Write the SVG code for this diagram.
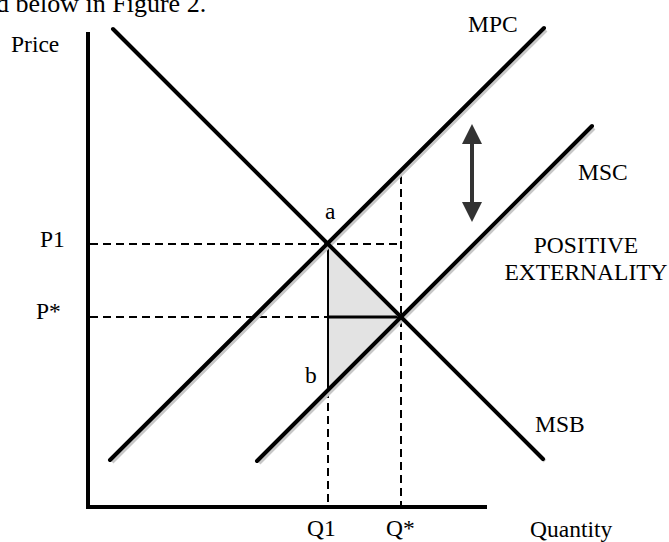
<svg xmlns="http://www.w3.org/2000/svg" width="669" height="542" viewBox="0 0 669 542">
<style>
text{font-family:"Liberation Serif","Times New Roman",serif;font-size:23.5px;fill:#000}
.curve{stroke:#000;stroke-width:4;fill:none;stroke-linecap:round}
.shadow{stroke:#c8c8c8;stroke-width:4;fill:none}
.dash{stroke:#000;stroke-width:2;stroke-dasharray:8,5;fill:none}
</style>
<defs>
<marker id="ah" viewBox="0 0 10 10" refX="2" refY="5" markerWidth="5" markerHeight="5" orient="auto-start-reverse" markerUnits="strokeWidth">
<path d="M0,0 L10,5 L0,10 z" fill="#333"/>
</marker>
</defs>
<rect width="669" height="542" fill="#fff"/>
<text x="-4" y="12" style="font-size:26px">d below in Figure 2.</text>
<g id="shading">
<polygon points="328,244 401,317 328,388" fill="#e3e3e3"/>
</g>
<g id="connectors">
<line class="dash" x1="90" y1="244" x2="400" y2="244"/>
<line class="dash" x1="90" y1="317" x2="328" y2="317"/>
<line class="dash" x1="328" y1="390" x2="328" y2="505"/>
<line class="dash" x1="401" y1="176" x2="401" y2="505"/>
<line x1="328" y1="244" x2="328" y2="388" stroke="#000" stroke-width="2"/>
<line x1="328" y1="317" x2="401" y2="317" stroke="#000" stroke-width="3"/>
<line class="shadow" x1="115" y1="31" x2="545" y2="461"/>
<line class="shadow" x1="112" y1="462" x2="546" y2="30"/>
<line class="shadow" x1="259" y1="463" x2="594" y2="128"/>
<line class="curve" x1="113" y1="29" x2="543" y2="459"/>
<line class="curve" x1="110" y1="460" x2="544" y2="28"/>
<line class="curve" x1="257" y1="461" x2="592" y2="126"/>
<path d="M88,32 L88,507 L487,507" stroke="#000" stroke-width="4" fill="none"/>
<line x1="472" y1="140" x2="472" y2="206" stroke="#333" stroke-width="4" marker-start="url(#ah)" marker-end="url(#ah)"/>
</g>
<g id="labels">
<text x="11" y="52">Price</text>
<text x="468" y="32">MPC</text>
<text x="578" y="180">MSC</text>
<text x="586" y="253" text-anchor="middle">POSITIVE</text>
<text x="586" y="280" text-anchor="middle">EXTERNALITY</text>
<text x="325" y="219">a</text>
<text x="305" y="383">b</text>
<text x="40" y="247">P1</text>
<text x="36" y="319">P*</text>
<text x="535" y="432">MSB</text>
<text x="307" y="536">Q1</text>
<text x="386" y="536">Q*</text>
<text x="530" y="537">Quantity</text>
</g>
</svg>
